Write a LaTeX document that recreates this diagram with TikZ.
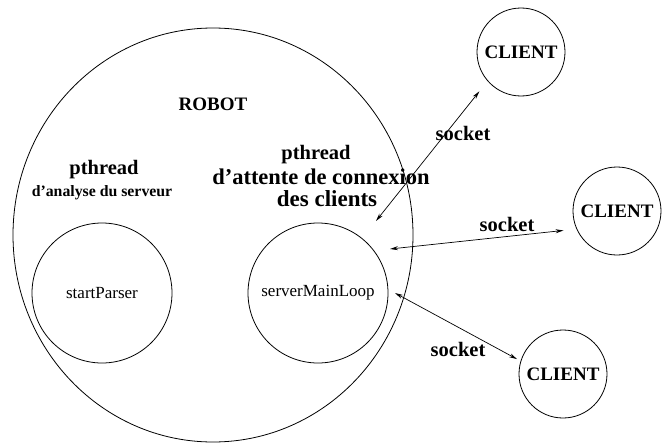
\documentclass[tikz,border=0pt]{standalone}
\usepackage{fontspec}
\setmainfont{Liberation Serif}
\usetikzlibrary{arrows.meta,shapes.geometric}

\tikzset{
  thread/.style={circle, draw, line width=0.8pt, minimum size=140pt, inner sep=0pt,
                 font=\fontsize{17}{19}\selectfont},
  client/.style={circle, draw, line width=0.8pt, minimum size=88pt, inner sep=0pt,
                 font=\fontsize{19}{21}\selectfont\bfseries},
  caption/.style={inner sep=0pt, align=center},
  sock/.style={inner sep=0pt, font=\fontsize{20.5}{22}\selectfont\bfseries},
  link/.style={line width=0.7pt, {Stealth[length=8pt,width=4pt]}-{Stealth[length=8pt,width=4pt]}}
}

\begin{document}
\begin{tikzpicture}[x=1pt, y=-1pt]
  \useasboundingbox (0,0) rectangle (663,444);

  % the robot process and its two threads
  \node[ellipse, draw, line width=0.8pt, minimum width=400pt, minimum height=414pt, inner sep=0pt]
    (robot) at (213,235) {};
  \node[caption, font=\fontsize{19}{21}\selectfont\bfseries] (robotlbl) at (213,104) {ROBOT};

  \node[thread] (parser) at (102,293) {startParser};
  \node[thread] (mainloop) at (318,293) {serverMainLoop};

  \node[caption, font=\fontsize{20.5}{22}\selectfont\bfseries] (pt1) at (104,170) {pthread};
  \node[caption, font=\fontsize{15.8}{18}\selectfont\bfseries] (pt1b) at (102,193) {d'analyse du serveur};

  \node[caption, font=\fontsize{20.5}{22}\selectfont\bfseries] (pt2) at (316,155) {pthread};
  \node[caption, font=\fontsize{22.5}{24}\selectfont\bfseries] (pt2b) at (321,177) {d'attente de connexion};
  \node[caption, font=\fontsize{23}{24}\selectfont\bfseries] (pt2c) at (327,199) {des clients};

  % clients
  \node[client] (c1) at (521,52) {CLIENT};
  \node[client] (c2) at (617,211) {CLIENT};
  \node[client] (c3) at (563,374) {CLIENT};

  % socket connections
  \coordinate (a1) at (376,221);
  \coordinate (a2) at (390,249);
  \coordinate (a3) at (395,293);

  \draw[link, shorten >=13pt] (a1) -- (c1.221.5);
  \draw[link, shorten >=13pt] (a2) -- (c2.204);
  \draw[link, shorten >=4pt] (a3) -- (c3.163);

  \node[sock] (s1) at (463,133) {socket};
  \node[sock] (s2) at (507,224) {socket};
  \node[sock] (s3) at (458,349) {socket};
\end{tikzpicture}
\end{document}
